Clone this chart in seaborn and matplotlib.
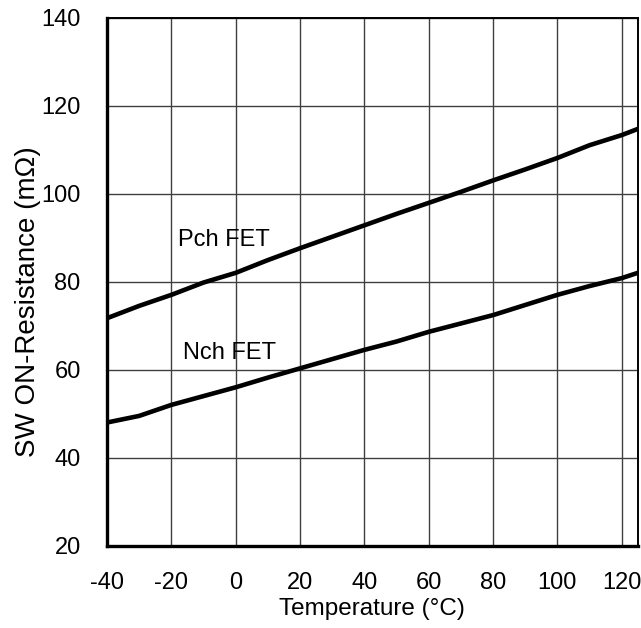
import pandas as pd
import numpy as np
import matplotlib
matplotlib.use("Agg")
import matplotlib.pyplot as plt
import seaborn as sns

# ===== Data =====
temp = [-40, -30, -20, -10, 0, 10, 20, 30, 40, 50, 60, 70, 80, 90, 100, 110, 120, 125]
pch_res = [71.7, 74.5, 77.0, 79.8, 82.0, 84.9, 87.6, 90.2, 92.8, 95.4, 97.9, 100.4, 103.0, 105.5, 108.1, 111.0, 113.3, 114.7]
nch_res = [48.0, 49.5, 52.0, 54.0, 56.0, 58.2, 60.3, 62.4, 64.5, 66.4, 68.6, 70.5, 72.4, 74.7, 77.0, 79.0, 80.8, 82.0]

x_ticks = [-40, -20, 0, 20, 40, 60, 80, 100, 120]
y_ticks = [20, 40, 60, 80, 100, 120, 140]

df = pd.DataFrame({
    "Temperature": temp * 2,
    "Resistance": pch_res + nch_res,
    "FET": ["Pch FET"] * len(temp) + ["Nch FET"] * len(temp),
})

# ===== Plot settings =====
sns.set_theme(style="white")
plt.rcParams['font.family'] = ['Liberation Sans', 'DejaVu Sans']
plt.rcParams['axes.unicode_minus'] = False
plt.rcParams['text.color'] = 'black'
plt.rcParams['axes.labelcolor'] = 'black'

fig = plt.figure(figsize=(6.41, 6.28), dpi=100)
ax = fig.add_axes([0.167, 0.131, 0.828, 0.841])

sns.lineplot(data=df, x="Temperature", y="Resistance", units="FET", estimator=None,
             color="black", linewidth=3.3, legend=False, ax=ax, zorder=3)

ax.set_xlim(-40, 125)
ax.set_ylim(20, 140)
ax.set_xticks(x_ticks)
ax.set_yticks(y_ticks)
ax.set_xticklabels([str(t) for t in x_ticks])
ax.grid(True, color="#404040", linewidth=1.0)
ax.tick_params(axis="both", length=0, labelsize=17, colors="black")
ax.tick_params(axis="x", pad=19)
ax.tick_params(axis="y", pad=19)

for side in ["left", "bottom"]:
    ax.spines[side].set_linewidth(2.4)
for side in ["top", "right"]:
    ax.spines[side].set_linewidth(1.4)
for s in ax.spines.values():
    s.set_color("black")

ax.set_xlabel("Temperature (°C)", fontsize=17.5, labelpad=3)
ax.set_ylabel("SW ON-Resistance (mΩ)", fontsize=20, labelpad=0)
ax.yaxis.label.set_y(0.463)  # label sits a bit below the axis centre

ax.text(-18, 88.1, "Pch FET", fontsize=17, va="baseline", ha="left")
ax.text(-16.5, 62.4, "Nch FET", fontsize=17, va="baseline", ha="left")

plt.savefig("out.png", dpi=100)
